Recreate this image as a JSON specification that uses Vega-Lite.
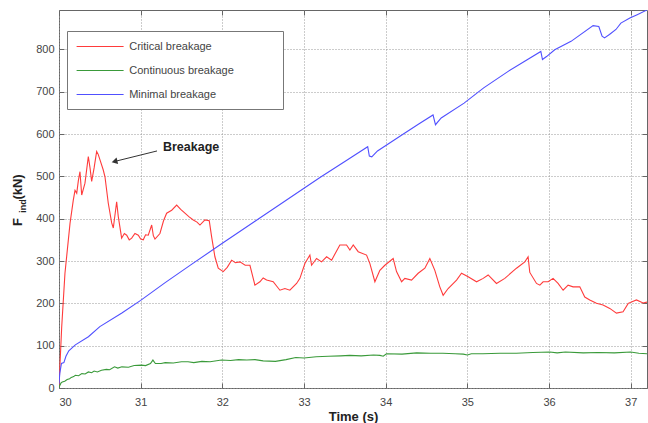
{
  "$schema": "https://vega.github.io/schema/vega-lite/v6.json",
  "width": 588,
  "height": 378,
  "autosize": {"type": "none"},
  "padding": {"left": 59, "top": 10, "right": 1, "bottom": 35},
  "background": "white",
  "config": {
    "view": {"stroke": "#666", "strokeWidth": 1},
    "font": "Liberation Sans",
    "axis": {
      "tickSize": -5,
      "tickColor": "#666",
      "domain": false,
      "labelFont": "Liberation Sans",
      "labelFontSize": 11,
      "labelColor": "#444",
      "titleFont": "Liberation Sans",
      "titleFontSize": 13,
      "titleFontWeight": "bold",
      "titleColor": "#222",
      "gridColor": "#999",
      "gridDash": [1, 2],
      "gridWidth": 1
    }
  },
  "resolve": {"axis": {"x": "independent", "y": "independent"}},
  "layer": [
    {
      "data": {"values": [{}]},
      "mark": {"type": "point", "opacity": 0},
      "encoding": {
        "x": {"datum": 30, "type": "quantitative", "scale": {"domain": [30, 37.2], "nice": false, "zero": false},
              "axis": {"orient": "top", "values": [30,31,32,33,34,35,36,37], "labels": false, "grid": false, "title": null}},
        "y": {"datum": 0, "type": "quantitative", "scale": {"domain": [0, 893], "nice": false},
              "axis": {"orient": "right", "values": [0,100,200,300,400,500,600,700,800], "labels": false, "grid": false, "title": null}}
      }
    },
    {
      "data": {"values": [
        {"series":"Critical breakage","t":30.000,"F":5},
        {"series":"Critical breakage","t":30.033,"F":144},
        {"series":"Critical breakage","t":30.073,"F":271},
        {"series":"Critical breakage","t":30.135,"F":389},
        {"series":"Critical breakage","t":30.175,"F":444},
        {"series":"Critical breakage","t":30.196,"F":467},
        {"series":"Critical breakage","t":30.217,"F":460},
        {"series":"Critical breakage","t":30.237,"F":490},
        {"series":"Critical breakage","t":30.257,"F":511},
        {"series":"Critical breakage","t":30.278,"F":456},
        {"series":"Critical breakage","t":30.298,"F":470},
        {"series":"Critical breakage","t":30.318,"F":484},
        {"series":"Critical breakage","t":30.359,"F":547},
        {"series":"Critical breakage","t":30.380,"F":520},
        {"series":"Critical breakage","t":30.400,"F":488},
        {"series":"Critical breakage","t":30.430,"F":520},
        {"series":"Critical breakage","t":30.461,"F":559},
        {"series":"Critical breakage","t":30.480,"F":552},
        {"series":"Critical breakage","t":30.502,"F":539},
        {"series":"Critical breakage","t":30.542,"F":515},
        {"series":"Critical breakage","t":30.563,"F":499},
        {"series":"Critical breakage","t":30.603,"F":437},
        {"series":"Critical breakage","t":30.645,"F":390},
        {"series":"Critical breakage","t":30.665,"F":378},
        {"series":"Critical breakage","t":30.706,"F":440},
        {"series":"Critical breakage","t":30.726,"F":405},
        {"series":"Critical breakage","t":30.767,"F":354},
        {"series":"Critical breakage","t":30.800,"F":365},
        {"series":"Critical breakage","t":30.829,"F":361},
        {"series":"Critical breakage","t":30.860,"F":350},
        {"series":"Critical breakage","t":30.890,"F":354},
        {"series":"Critical breakage","t":30.930,"F":365},
        {"series":"Critical breakage","t":30.971,"F":361},
        {"series":"Critical breakage","t":31.000,"F":352},
        {"series":"Critical breakage","t":31.032,"F":350},
        {"series":"Critical breakage","t":31.060,"F":362},
        {"series":"Critical breakage","t":31.093,"F":361},
        {"series":"Critical breakage","t":31.135,"F":385},
        {"series":"Critical breakage","t":31.155,"F":360},
        {"series":"Critical breakage","t":31.175,"F":352},
        {"series":"Critical breakage","t":31.236,"F":365},
        {"series":"Critical breakage","t":31.280,"F":395},
        {"series":"Critical breakage","t":31.318,"F":413},
        {"series":"Critical breakage","t":31.380,"F":420},
        {"series":"Critical breakage","t":31.441,"F":432},
        {"series":"Critical breakage","t":31.490,"F":422},
        {"series":"Critical breakage","t":31.542,"F":413},
        {"series":"Critical breakage","t":31.590,"F":405},
        {"series":"Critical breakage","t":31.644,"F":397},
        {"series":"Critical breakage","t":31.690,"F":392},
        {"series":"Critical breakage","t":31.726,"F":385},
        {"series":"Critical breakage","t":31.787,"F":397},
        {"series":"Critical breakage","t":31.840,"F":395},
        {"series":"Critical breakage","t":31.869,"F":357},
        {"series":"Critical breakage","t":31.909,"F":310},
        {"series":"Critical breakage","t":31.950,"F":283},
        {"series":"Critical breakage","t":32.011,"F":275},
        {"series":"Critical breakage","t":32.060,"F":285},
        {"series":"Critical breakage","t":32.114,"F":302},
        {"series":"Critical breakage","t":32.160,"F":296},
        {"series":"Critical breakage","t":32.215,"F":298},
        {"series":"Critical breakage","t":32.280,"F":290},
        {"series":"Critical breakage","t":32.338,"F":290},
        {"series":"Critical breakage","t":32.399,"F":243},
        {"series":"Critical breakage","t":32.460,"F":251},
        {"series":"Critical breakage","t":32.500,"F":260},
        {"series":"Critical breakage","t":32.542,"F":255},
        {"series":"Critical breakage","t":32.623,"F":251},
        {"series":"Critical breakage","t":32.705,"F":231},
        {"series":"Critical breakage","t":32.766,"F":235},
        {"series":"Critical breakage","t":32.827,"F":231},
        {"series":"Critical breakage","t":32.909,"F":247},
        {"series":"Critical breakage","t":32.950,"F":259},
        {"series":"Critical breakage","t":33.011,"F":294},
        {"series":"Critical breakage","t":33.072,"F":314},
        {"series":"Critical breakage","t":33.093,"F":290},
        {"series":"Critical breakage","t":33.154,"F":306},
        {"series":"Critical breakage","t":33.215,"F":298},
        {"series":"Critical breakage","t":33.277,"F":310},
        {"series":"Critical breakage","t":33.338,"F":302},
        {"series":"Critical breakage","t":33.439,"F":338},
        {"series":"Critical breakage","t":33.521,"F":338},
        {"series":"Critical breakage","t":33.562,"F":326},
        {"series":"Critical breakage","t":33.603,"F":338},
        {"series":"Critical breakage","t":33.664,"F":322},
        {"series":"Critical breakage","t":33.766,"F":314},
        {"series":"Critical breakage","t":33.807,"F":294},
        {"series":"Critical breakage","t":33.868,"F":251},
        {"series":"Critical breakage","t":33.929,"F":278},
        {"series":"Critical breakage","t":33.990,"F":290},
        {"series":"Critical breakage","t":34.092,"F":306},
        {"series":"Critical breakage","t":34.133,"F":275},
        {"series":"Critical breakage","t":34.195,"F":251},
        {"series":"Critical breakage","t":34.235,"F":259},
        {"series":"Critical breakage","t":34.317,"F":255},
        {"series":"Critical breakage","t":34.398,"F":271},
        {"series":"Critical breakage","t":34.480,"F":283},
        {"series":"Critical breakage","t":34.541,"F":306},
        {"series":"Critical breakage","t":34.602,"F":278},
        {"series":"Critical breakage","t":34.663,"F":239},
        {"series":"Critical breakage","t":34.704,"F":219},
        {"series":"Critical breakage","t":34.765,"F":235},
        {"series":"Critical breakage","t":34.868,"F":255},
        {"series":"Critical breakage","t":34.929,"F":271},
        {"series":"Critical breakage","t":35.010,"F":263},
        {"series":"Critical breakage","t":35.113,"F":251},
        {"series":"Critical breakage","t":35.194,"F":259},
        {"series":"Critical breakage","t":35.255,"F":267},
        {"series":"Critical breakage","t":35.357,"F":247},
        {"series":"Critical breakage","t":35.459,"F":259},
        {"series":"Critical breakage","t":35.602,"F":283},
        {"series":"Critical breakage","t":35.704,"F":298},
        {"series":"Critical breakage","t":35.744,"F":310},
        {"series":"Critical breakage","t":35.765,"F":273},
        {"series":"Critical breakage","t":35.847,"F":247},
        {"series":"Critical breakage","t":35.888,"F":243},
        {"series":"Critical breakage","t":35.928,"F":251},
        {"series":"Critical breakage","t":35.989,"F":251},
        {"series":"Critical breakage","t":36.050,"F":259},
        {"series":"Critical breakage","t":36.111,"F":247},
        {"series":"Critical breakage","t":36.173,"F":231},
        {"series":"Critical breakage","t":36.234,"F":243},
        {"series":"Critical breakage","t":36.295,"F":239},
        {"series":"Critical breakage","t":36.377,"F":239},
        {"series":"Critical breakage","t":36.438,"F":215},
        {"series":"Critical breakage","t":36.499,"F":208},
        {"series":"Critical breakage","t":36.581,"F":200},
        {"series":"Critical breakage","t":36.662,"F":196},
        {"series":"Critical breakage","t":36.744,"F":188},
        {"series":"Critical breakage","t":36.826,"F":177},
        {"series":"Critical breakage","t":36.907,"F":180},
        {"series":"Critical breakage","t":36.970,"F":200},
        {"series":"Critical breakage","t":37.071,"F":208},
        {"series":"Critical breakage","t":37.152,"F":201},
        {"series":"Critical breakage","t":37.200,"F":203},

        {"series":"Continuous breakage","t":30.000,"F":2},
        {"series":"Continuous breakage","t":30.010,"F":6},
        {"series":"Continuous breakage","t":30.025,"F":12},
        {"series":"Continuous breakage","t":30.040,"F":14},
        {"series":"Continuous breakage","t":30.070,"F":16},
        {"series":"Continuous breakage","t":30.100,"F":20},
        {"series":"Continuous breakage","t":30.130,"F":22},
        {"series":"Continuous breakage","t":30.150,"F":25},
        {"series":"Continuous breakage","t":30.180,"F":27},
        {"series":"Continuous breakage","t":30.200,"F":30},
        {"series":"Continuous breakage","t":30.240,"F":29},
        {"series":"Continuous breakage","t":30.280,"F":34},
        {"series":"Continuous breakage","t":30.320,"F":33},
        {"series":"Continuous breakage","t":30.360,"F":38},
        {"series":"Continuous breakage","t":30.400,"F":36},
        {"series":"Continuous breakage","t":30.430,"F":40},
        {"series":"Continuous breakage","t":30.470,"F":38},
        {"series":"Continuous breakage","t":30.520,"F":42},
        {"series":"Continuous breakage","t":30.580,"F":44},
        {"series":"Continuous breakage","t":30.620,"F":43},
        {"series":"Continuous breakage","t":30.680,"F":50},
        {"series":"Continuous breakage","t":30.720,"F":47},
        {"series":"Continuous breakage","t":30.770,"F":50},
        {"series":"Continuous breakage","t":30.850,"F":49},
        {"series":"Continuous breakage","t":30.920,"F":53},
        {"series":"Continuous breakage","t":31.010,"F":54},
        {"series":"Continuous breakage","t":31.060,"F":53},
        {"series":"Continuous breakage","t":31.120,"F":58},
        {"series":"Continuous breakage","t":31.150,"F":66},
        {"series":"Continuous breakage","t":31.180,"F":58},
        {"series":"Continuous breakage","t":31.250,"F":58},
        {"series":"Continuous breakage","t":31.300,"F":60},
        {"series":"Continuous breakage","t":31.400,"F":59},
        {"series":"Continuous breakage","t":31.500,"F":62},
        {"series":"Continuous breakage","t":31.580,"F":62},
        {"series":"Continuous breakage","t":31.650,"F":60},
        {"series":"Continuous breakage","t":31.750,"F":63},
        {"series":"Continuous breakage","t":31.850,"F":62},
        {"series":"Continuous breakage","t":31.990,"F":66},
        {"series":"Continuous breakage","t":32.100,"F":65},
        {"series":"Continuous breakage","t":32.200,"F":67},
        {"series":"Continuous breakage","t":32.300,"F":66},
        {"series":"Continuous breakage","t":32.400,"F":67},
        {"series":"Continuous breakage","t":32.500,"F":64},
        {"series":"Continuous breakage","t":32.650,"F":63},
        {"series":"Continuous breakage","t":32.780,"F":67},
        {"series":"Continuous breakage","t":32.900,"F":72},
        {"series":"Continuous breakage","t":33.000,"F":71},
        {"series":"Continuous breakage","t":33.150,"F":74},
        {"series":"Continuous breakage","t":33.300,"F":75},
        {"series":"Continuous breakage","t":33.450,"F":76},
        {"series":"Continuous breakage","t":33.560,"F":77},
        {"series":"Continuous breakage","t":33.700,"F":76},
        {"series":"Continuous breakage","t":33.850,"F":78},
        {"series":"Continuous breakage","t":33.930,"F":77},
        {"series":"Continuous breakage","t":33.970,"F":75},
        {"series":"Continuous breakage","t":34.010,"F":81},
        {"series":"Continuous breakage","t":34.200,"F":80},
        {"series":"Continuous breakage","t":34.380,"F":83},
        {"series":"Continuous breakage","t":34.550,"F":82},
        {"series":"Continuous breakage","t":34.700,"F":82},
        {"series":"Continuous breakage","t":34.850,"F":81},
        {"series":"Continuous breakage","t":34.950,"F":80},
        {"series":"Continuous breakage","t":35.000,"F":78},
        {"series":"Continuous breakage","t":35.050,"F":81},
        {"series":"Continuous breakage","t":35.190,"F":81},
        {"series":"Continuous breakage","t":35.400,"F":82},
        {"series":"Continuous breakage","t":35.600,"F":82},
        {"series":"Continuous breakage","t":35.800,"F":84},
        {"series":"Continuous breakage","t":36.010,"F":85},
        {"series":"Continuous breakage","t":36.100,"F":83},
        {"series":"Continuous breakage","t":36.200,"F":85},
        {"series":"Continuous breakage","t":36.420,"F":83},
        {"series":"Continuous breakage","t":36.600,"F":84},
        {"series":"Continuous breakage","t":36.800,"F":83},
        {"series":"Continuous breakage","t":37.000,"F":85},
        {"series":"Continuous breakage","t":37.100,"F":82},
        {"series":"Continuous breakage","t":37.200,"F":81},

        {"series":"Minimal breakage","t":30.000,"F":10},
        {"series":"Minimal breakage","t":30.010,"F":35},
        {"series":"Minimal breakage","t":30.030,"F":58},
        {"series":"Minimal breakage","t":30.060,"F":60},
        {"series":"Minimal breakage","t":30.085,"F":75},
        {"series":"Minimal breakage","t":30.120,"F":88},
        {"series":"Minimal breakage","t":30.200,"F":102},
        {"series":"Minimal breakage","t":30.360,"F":121},
        {"series":"Minimal breakage","t":30.500,"F":145},
        {"series":"Minimal breakage","t":30.770,"F":177},
        {"series":"Minimal breakage","t":31.000,"F":207},
        {"series":"Minimal breakage","t":31.300,"F":249},
        {"series":"Minimal breakage","t":31.600,"F":289},
        {"series":"Minimal breakage","t":32.000,"F":342},
        {"series":"Minimal breakage","t":32.400,"F":394},
        {"series":"Minimal breakage","t":32.800,"F":446},
        {"series":"Minimal breakage","t":33.200,"F":498},
        {"series":"Minimal breakage","t":33.500,"F":535},
        {"series":"Minimal breakage","t":33.780,"F":570},
        {"series":"Minimal breakage","t":33.800,"F":548},
        {"series":"Minimal breakage","t":33.830,"F":546},
        {"series":"Minimal breakage","t":33.900,"F":560},
        {"series":"Minimal breakage","t":34.170,"F":594},
        {"series":"Minimal breakage","t":34.400,"F":623},
        {"series":"Minimal breakage","t":34.580,"F":645},
        {"series":"Minimal breakage","t":34.610,"F":622},
        {"series":"Minimal breakage","t":34.680,"F":638},
        {"series":"Minimal breakage","t":34.960,"F":673},
        {"series":"Minimal breakage","t":35.200,"F":709},
        {"series":"Minimal breakage","t":35.500,"F":748},
        {"series":"Minimal breakage","t":35.900,"F":795},
        {"series":"Minimal breakage","t":35.920,"F":776},
        {"series":"Minimal breakage","t":35.970,"F":783},
        {"series":"Minimal breakage","t":36.070,"F":799},
        {"series":"Minimal breakage","t":36.270,"F":819},
        {"series":"Minimal breakage","t":36.540,"F":856},
        {"series":"Minimal breakage","t":36.610,"F":854},
        {"series":"Minimal breakage","t":36.650,"F":831},
        {"series":"Minimal breakage","t":36.680,"F":827},
        {"series":"Minimal breakage","t":36.740,"F":835},
        {"series":"Minimal breakage","t":36.820,"F":847},
        {"series":"Minimal breakage","t":36.880,"F":862},
        {"series":"Minimal breakage","t":36.990,"F":874},
        {"series":"Minimal breakage","t":37.080,"F":882},
        {"series":"Minimal breakage","t":37.200,"F":893}
      ]},
      "mark": {"type": "line", "strokeWidth": 1.1, "clip": true},
      "encoding": {
        "x": {"field": "t", "type": "quantitative", "scale": {"domain": [30, 37.2], "nice": false, "zero": false},
              "axis": {"orient": "bottom", "values": [30,31,32,33,34,35,36,37], "grid": true, "title": "Time (s)", "labelPadding": 13, "titlePadding": 3}},
        "y": {"field": "F", "type": "quantitative", "scale": {"domain": [0, 893], "nice": false},
              "axis": {"orient": "left", "values": [0,100,200,300,400,500,600,700,800], "grid": true, "title": null, "labelPadding": 10}},
        "color": {"field": "series", "type": "nominal",
                  "scale": {"domain": ["Critical breakage", "Continuous breakage", "Minimal breakage"], "range": ["#ff3b3b", "#3a9a3a", "#5050ff"]},
                  "legend": {"orient": "none", "legendX": 8, "legendY": 21, "title": null,
                             "symbolType": "M-4,0H4", "symbolSize": 138, "symbolStrokeWidth": 1.2, "symbolOffset": 17.6,
                             "labelFont": "Liberation Sans", "labelFontSize": 11, "labelColor": "#444", "labelOffset": 22.6, "labelLimit": 400,
                             "labelExpr": "datum.label + '             \u200b'",
                             "strokeColor": "#777", "fillColor": "white", "padding": 9, "rowPadding": 12, "cornerRadius": 0}}
      }
    },
    {
      "data": {"values": [{}]},
      "mark": {"type": "rule", "color": "#333", "strokeWidth": 1},
      "encoding": {
        "x": {"datum": 31.2, "type": "quantitative", "axis": null},
        "y": {"datum": 560, "type": "quantitative", "axis": null},
        "x2": {"datum": 30.698},
        "y2": {"datum": 536}
      }
    },
    {
      "data": {"values": [{}]},
      "mark": {"type": "point", "shape": "triangle-up", "filled": true, "color": "#333", "size": 45, "angle": 256, "opacity": 1},
      "encoding": {
        "x": {"datum": 30.68, "type": "quantitative", "axis": null},
        "y": {"datum": 535, "type": "quantitative", "axis": null}
      }
    },
    {
      "data": {"values": [{}]},
      "mark": {"type": "text", "text": "Breakage", "align": "left", "baseline": "middle", "font": "Liberation Sans", "fontSize": 12.5, "fontWeight": "bold", "color": "#222"},
      "encoding": {
        "x": {"datum": 31.273, "type": "quantitative", "axis": null},
        "y": {"datum": 569, "type": "quantitative", "axis": null}
      }
    },
    {
      "data": {"values": [{}]},
      "mark": {"type": "text", "text": "F", "angle": 270, "align": "center", "baseline": "middle", "font": "Liberation Sans", "fontSize": 13, "fontWeight": "bold", "color": "#222"},
      "encoding": {
        "x": {"datum": 29.498, "type": "quantitative", "axis": null},
        "y": {"datum": 392, "type": "quantitative", "axis": null}
      }
    },
    {
      "data": {"values": [{}]},
      "mark": {"type": "text", "text": "ind", "angle": 270, "align": "center", "baseline": "middle", "font": "Liberation Sans", "fontSize": 9, "fontWeight": "bold", "color": "#222"},
      "encoding": {
        "x": {"datum": 29.559, "type": "quantitative", "axis": null},
        "y": {"datum": 430, "type": "quantitative", "axis": null}
      }
    },
    {
      "data": {"values": [{}]},
      "mark": {"type": "text", "text": "(kN)", "angle": 270, "align": "center", "baseline": "middle", "font": "Liberation Sans", "fontSize": 13, "fontWeight": "bold", "color": "#222"},
      "encoding": {
        "x": {"datum": 29.498, "type": "quantitative", "axis": null},
        "y": {"datum": 475, "type": "quantitative", "axis": null}
      }
    }
  ]
}
